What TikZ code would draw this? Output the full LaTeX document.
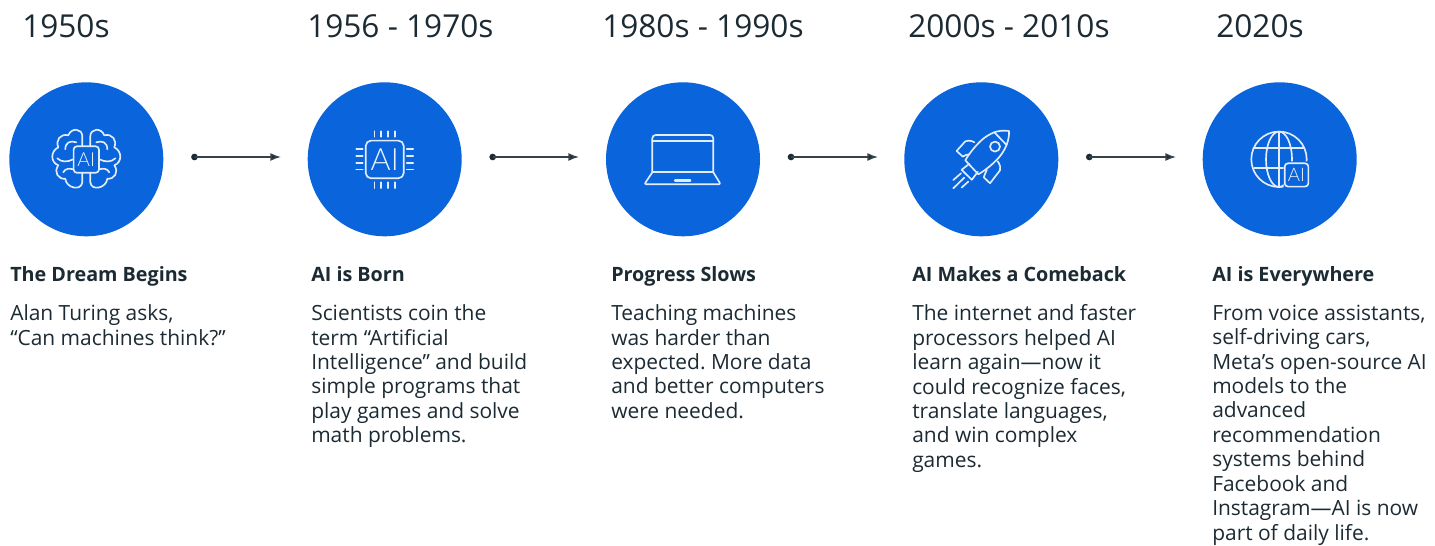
\documentclass[tikz,border=0pt]{standalone}
\usepackage{fontspec}
\setmainfont{Open Sans}
\newfontfamily\iconfont{Lato Light}
\usetikzlibrary{arrows.meta}
\definecolor{metablue}{HTML}{0A64DC}
\definecolor{ink}{HTML}{1C2B33}
\definecolor{wire}{HTML}{36424A}
\tikzset{
  disc/.style={circle,fill=metablue,draw=none,minimum size=115.5pt,inner sep=0pt},
  yeartext/.style={anchor=base west,inner sep=0pt,text=ink,font=\fontsize{23.7}{26}\selectfont},
  headtext/.style={anchor=base west,inner sep=0pt,text=ink,font=\fontsize{14.8}{18}\selectfont\bfseries},
  bodytext/.style={anchor=north west,inner sep=0pt,text=ink,align=left,font=\fontsize{15.7}{18.33}\selectfont\frenchspacing},
  startdot/.style={circle,fill=ink,draw=none,minimum size=5pt,inner sep=0pt},
  flow/.style={draw=wire,line width=1.1pt,-{Latex[length=8pt,width=6pt,fill=ink]}},
  glyph/.style={draw=white!88!metablue,line width=1.25pt,line cap=round,line join=round},
  glyphai/.style={text=white!92!metablue,inner sep=0pt},
}
\begin{document}
\begin{tikzpicture}[x=0.75pt,y=-0.75pt]
\useasboundingbox (0,0) rectangle (1435,546);
\fill[white] (0,0) rectangle (1435,546);

% years
\node[yeartext] (y1) at (22,37) {1950s};
\node[yeartext] (y2) at (307,37) {1956 - 1970s};
\node[yeartext] (y3) at (602,37) {1980s - 1990s};
\node[yeartext] (y4) at (908,37) {2000s - 2010s};
\node[yeartext] (y5) at (1216,37) {2020s};

% discs
\node[disc] (c1) at (86.3,159.3) {};
\node[disc] (c2) at (384.7,159.3) {};
\node[disc] (c3) at (683,159.3) {};
\node[disc] (c4) at (981.3,159.3) {};
\node[disc] (c5) at (1279.7,159.3) {};

% connectors
\node[startdot] (d1) at (194.5,157) {};
\coordinate (e1) at (281,157);
\node[startdot] (d2) at (492.7,157) {};
\coordinate (e2) at (579,157);
\node[startdot] (d3) at (791,157) {};
\coordinate (e3) at (878,157);
\node[startdot] (d4) at (1089.3,157) {};
\coordinate (e4) at (1176,157);
\draw[flow] (d1.center) -- (e1);
\draw[flow] (d2.center) -- (e2);
\draw[flow] (d3.center) -- (e3);
\draw[flow] (d4.center) -- (e4);

% brain
\begin{scope}[shift={(c1.center)}]
  \foreach \s in {1,-1}{
    \begin{scope}[xscale=\s]
      \draw[glyph] (-4,-13) -- (-4,-23) .. controls (-4,-31) and (-15,-32) .. (-18,-24)
        .. controls (-26,-26) and (-31,-19) .. (-28,-12)
        .. controls (-36,-8) and (-36,3) .. (-28,6)
        .. controls (-33,13) and (-28,20) .. (-21,19.5)
        .. controls (-20,29) and (-5,32) .. (-4,23) -- (-4,14);
      \draw[glyph] (-21,-10) .. controls (-21,-17) and (-16,-19) .. (-10,-17);
      \draw[glyph] (-29,-1) .. controls (-25,3) and (-19,3) .. (-13,0);
      \draw[glyph] (-23,13) .. controls (-21,9) and (-17,9) .. (-13,10);
    \end{scope}
  }
  \draw[glyph,rounded corners=2.5] (-12.7,-13) rectangle (12.7,13.5);
  \node[glyphai,font=\iconfont\fontsize{14.5}{14.5}\selectfont] (ai1) at (0,0.5) {AI};
\end{scope}

% chip
\begin{scope}[shift={(c2.center)}]
  \draw[glyph,rounded corners=4] (-19,-18.7) rectangle (19,19);
  \foreach \p in {-10.3,-3.6,3.6,10.3}{
    \draw[glyph] (\p,-28) -- (\p,-22.5);
    \draw[glyph] (\p,23) -- (\p,28.8);
    \draw[glyph] (-28.5,\p) -- (-22,\p);
    \draw[glyph] (22,\p) -- (28.5,\p);
  }
  \node[glyphai,font=\iconfont\fontsize{23}{23}\selectfont] (ai2) at (0,0.5) {AI};
\end{scope}

% laptop
\begin{scope}[shift={(c3.center)}]
  \draw[glyph,rounded corners=2.5] (-30.7,13) -- (-30.7,-24.3) -- (30.3,-24.3) -- (30.3,13);
  \draw[glyph] (-30.7,-18.3) -- (30.3,-18.3);
  \draw[glyph] (-30.7,12.5) -- (30.3,12.5);
  \draw[glyph,rounded corners=1.5] (-30.7,13) -- (-38.7,25) -- (37.7,25) -- (30.3,13);
  \draw[glyph,line width=1.7pt] (-8,21.2) -- (7.2,21.2);
\end{scope}

% rocket
\begin{scope}[shift={(c4.center)}]
  \draw[glyph] (27.7,-28.3) .. controls (22,-29) and (17,-28.5) .. (13,-27)
     .. controls (8,-25) and (3,-22) .. (-1.3,-17.7)
     .. controls (-7,-12) and (-12,-6) .. (-16,1) -- (-3,15)
     .. controls (4,11) and (10,6) .. (15.3,0.7)
     .. controls (20,-4) and (23,-9) .. (25.3,-14.3)
     .. controls (27,-19) and (28,-24) .. (27.7,-28.3) -- cycle;
  \draw[glyph] (13,-27) -- (25.3,-14.3);
  \draw[glyph] (13.7,-12.7) circle (5);
  \draw[glyph] (-7,-17) .. controls (-10,-19) and (-14,-19) .. (-16.3,-17.7) -- (-24.7,-8.3) -- (-18.5,-2.7)
     .. controls (-16.5,-4) and (-14,-5) .. (-12,-5);
  \draw[glyph] (16.5,2) .. controls (19,6) and (19.5,9) .. (18.7,11) -- (8.7,24) -- (2.5,18)
     .. controls (3,16) and (4,14) .. (5.5,10.5);
  \draw[glyph] (-12,4.5) -- (-19.7,10.5) -- (-9.5,20.5) -- (-3.5,12.5);
  \draw[glyph] (-20.3,14) -- (-28,20.7);
  \draw[glyph] (-17,18.3) -- (-28,29);
  \draw[glyph] (-13,22.3) -- (-19.7,28.3);
\end{scope}

% globe
\begin{scope}[shift={(c5.center)}]
  \begin{scope}
    \clip (-40,-40) rectangle (40,2) (-40,2) rectangle (3.8,40);
    \draw[glyph] (-0.7,0) circle (27.7);
    \draw[glyph] (-0.7,0) ellipse (13 and 27.7);
    \draw[glyph] (-0.7,-27.7) -- (-0.7,27.7);
    \draw[glyph] (-25.5,-11) -- (24.1,-11);
    \draw[glyph] (-25.5,9) -- (4,9);
  \end{scope}
  \draw[glyph,rounded corners=2.5] (5,4) rectangle (28.7,27.3);
  \node[glyphai,font=\iconfont\fontsize{14}{14}\selectfont] (ai5) at (16.8,16) {AI};
\end{scope}

% headings
\node[headtext] (h1) at (10,281) {The Dream Begins};
\node[headtext] (h2) at (311,281) {AI is Born};
\node[headtext] (h3) at (611,281) {Progress Slows};
\node[headtext] (h4) at (912,281) {AI Makes a Comeback};
\node[headtext] (h5) at (1212,281) {AI is Everywhere};

% bodies
\node[bodytext] (b1) at (10,304.5) {Alan Turing asks,\\“Can machines think?”};
\node[bodytext] (b2) at (311,304.5) {Scientists coin the\\term “Artificial\\Intelligence” and build\\simple programs that\\play games and solve\\math problems.};
\node[bodytext] (b3) at (611,304.5) {Teaching machines\\was harder than\\expected. More data\\and better computers\\were needed.};
\node[bodytext] (b4) at (912,304.5) {The internet and faster\\processors helped AI\\learn again—now it\\could recognize faces,\\translate languages,\\and win complex\\games.};
\node[bodytext] (b5) at (1212,304.5) {From voice assistants,\\self-driving cars,\\Meta’s open-source AI\\models to the\\advanced\\recommendation\\systems behind\\Facebook and\\Instagram—AI is now\\part of daily life.};
\end{tikzpicture}
\end{document}
